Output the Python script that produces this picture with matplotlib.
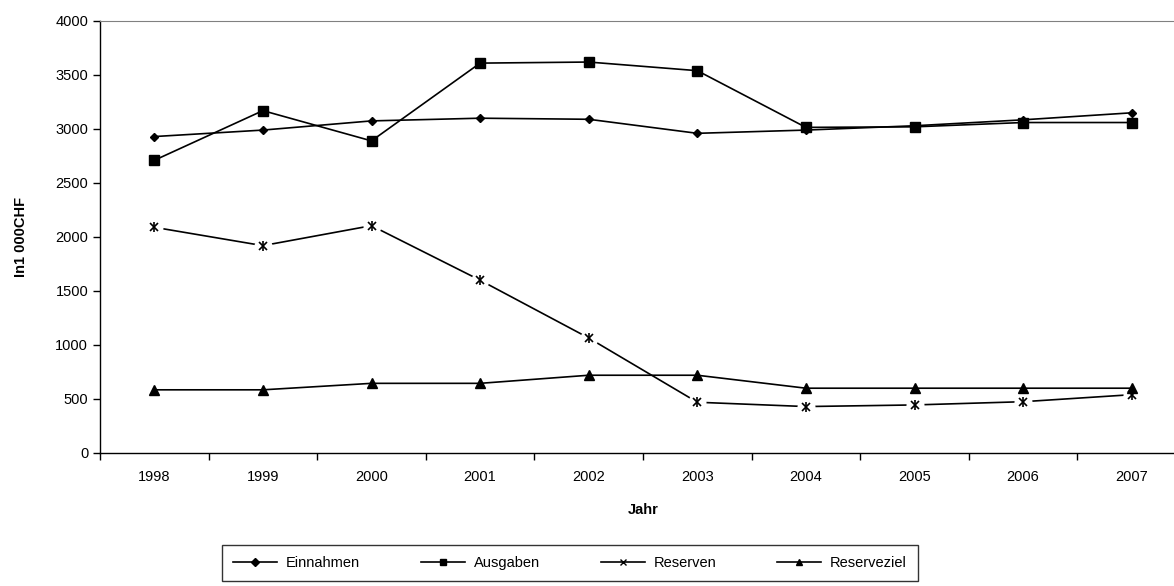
import numpy as np
import matplotlib.pyplot as plt
from matplotlib.lines import Line2D

plt.rcParams['font.family'] = ['Liberation Sans', 'DejaVu Sans']

years = ['1998', '1999', '2000', '2001', '2002', '2003', '2004', '2005', '2006', '2007']
einnahmen = [2930, 2990, 3075, 3100, 3090, 2960, 2990, 3030, 3085, 3150]
ausgaben = [2710, 3170, 2890, 3610, 3620, 3540, 3015, 3020, 3060, 3060]
reserven = [2090, 1920, 2105, 1600, 1065, 470, 430, 445, 475, 540]
reserveziel = [585, 585, 645, 645, 720, 720, 600, 600, 600, 600]

x = np.arange(len(years))
fs = 10.5

fig = plt.figure(figsize=(11.74, 5.86), dpi=100)
ax = fig.add_axes([100 / 1174, 133 / 586, 1086 / 1174, 432 / 586])

# Reserven: line with small gaps around the star markers
ax.plot(x, reserven, color='black', lw=1.2, zorder=2)
ax.plot(x, reserven, ls='none', marker='o', ms=13, mfc='white', mec='none', zorder=2.1)
ax.plot(x, reserven, ls='none', marker='x', ms=6, mec='black', mew=1.2, zorder=2.2)
ax.plot(x, reserven, ls='none', marker='|', ms=7, mec='black', mew=1.2, zorder=2.2)

ax.plot(x, einnahmen, color='black', lw=1.2, marker='D', ms=4.5, zorder=3)
ax.plot(x, ausgaben, color='black', lw=1.2, marker='s', ms=6.5, zorder=3)
ax.plot(x, reserveziel, color='black', lw=1.2, marker='^', ms=6.5, zorder=3)

ax.set_xlim(-0.5, 9.5)
ax.set_ylim(0, 4000)
ax.set_yticks(np.arange(0, 4001, 500))
ax.set_xticks(x)
ax.set_xticklabels(years)
ax.set_xticks(np.arange(-0.5, 10, 1), minor=True)
ax.tick_params(axis='x', which='major', length=0, pad=12, labelsize=fs)
ax.tick_params(axis='x', which='minor', length=5, width=1, direction='out')
ax.tick_params(axis='y', length=5, width=1, direction='out', labelsize=fs)

for s in ['left', 'bottom']:
    ax.spines[s].set_color('black')
    ax.spines[s].set_linewidth(1)
ax.spines['top'].set_color('#808080')
ax.spines['right'].set_visible(False)

ax.set_xlabel('Jahr', fontsize=fs, fontweight='bold', labelpad=14)
ax.set_ylabel('In1 000CHF', fontsize=fs, fontweight='bold', labelpad=20)

handles = [
    Line2D([], [], color='black', lw=1.2, marker='D', ms=4),
    Line2D([], [], color='black', lw=1.2, marker='s', ms=5),
    Line2D([], [], color='black', lw=1.2, marker='x', ms=5),
    Line2D([], [], color='black', lw=1.2, marker='^', ms=5),
]
labels = ['Einnahmen', 'Ausgaben', 'Reserven', 'Reserveziel']
leg = fig.legend(handles, labels, ncol=4, loc='center', bbox_to_anchor=(570 / 1174, 1 - 563 / 586),
                 frameon=True, fancybox=False, edgecolor='black', fontsize=fs,
                 handlelength=3.0, columnspacing=4.2, borderpad=0.75, handletextpad=0.6)
leg.get_frame().set_linewidth(1)

fig.savefig('out.png', dpi=100)
